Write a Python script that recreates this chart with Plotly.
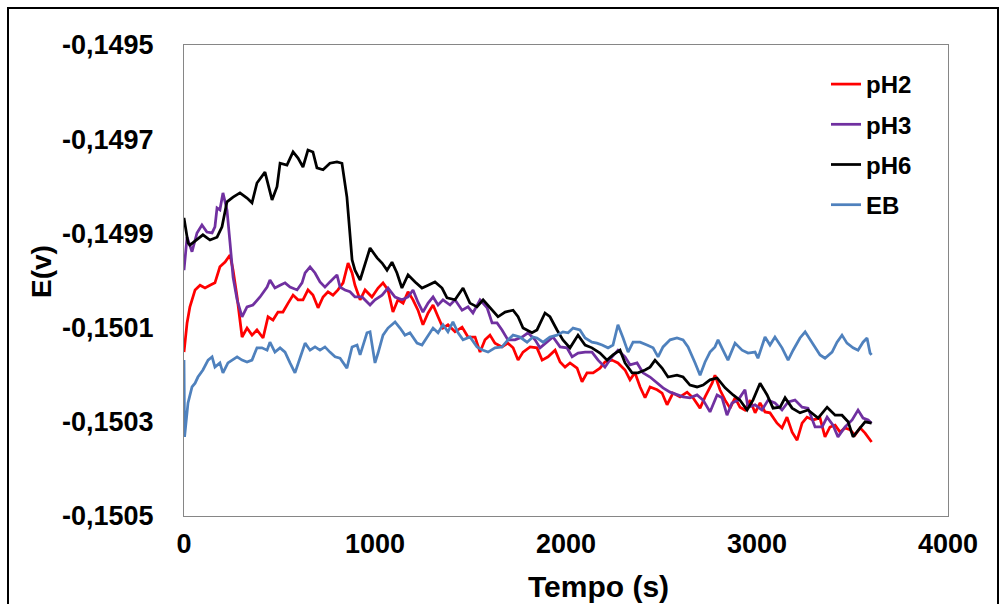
import plotly.graph_objects as go

# ---------------- data ----------------
t_ph2 = [0, 16, 31, 58, 84, 110, 136, 162, 188, 215, 241, 257, 278, 304, 330, 356, 382, 414, 440, 466,
         492, 518, 545, 571, 597, 623, 649, 675, 702, 728, 754, 780, 806, 833, 859, 880, 895, 922, 948, 984,
         1016, 1042, 1068, 1094, 1120, 1147, 1173, 1199, 1225, 1251, 1278, 1304, 1330, 1356, 1382, 1419, 1456, 1487, 1524, 1550,
         1576, 1602, 1628, 1665, 1696, 1723, 1749, 1775, 1812, 1848, 1875, 1906, 1943, 1969, 1995, 2021, 2058, 2084, 2110, 2142,
         2178, 2204, 2241, 2272, 2309, 2335, 2361, 2388, 2414, 2440, 2477, 2503, 2529, 2560, 2597, 2634, 2665, 2702, 2728, 2765,
         2780, 2806, 2833, 2859, 2885, 2911, 2937, 2964, 2990, 3016, 3042, 3068, 3105, 3131, 3157, 3184, 3210, 3236, 3262, 3293,
         3330, 3356, 3382, 3409, 3435, 3461, 3487, 3513, 3540, 3566, 3600]
e_ph2 = [-0.150152, -0.150090, -0.150056, -0.150020, -0.150010, -0.150016, -0.150010, -0.150005, -0.149971, -0.149961,
         -0.149946, -0.149978, -0.150035, -0.150120, -0.150101, -0.150116, -0.150105, -0.150122, -0.150077, -0.150084,
         -0.150067, -0.150067, -0.150048, -0.150031, -0.150041, -0.150041, -0.150020, -0.150031, -0.150058, -0.150035,
         -0.150024, -0.150031, -0.150020, -0.150005, -0.149963, -0.149984, -0.150010, -0.150041, -0.150020, -0.150035,
         -0.150016, -0.150005, -0.150020, -0.150067, -0.150041, -0.150048, -0.150024, -0.150041, -0.150063, -0.150094,
         -0.150069, -0.150052, -0.150077, -0.150101, -0.150094, -0.150109, -0.150099, -0.150120, -0.150120, -0.150152,
         -0.150126, -0.150116, -0.150133, -0.150141, -0.150133, -0.150143, -0.150169, -0.150152, -0.150141, -0.150143,
         -0.150169, -0.150162, -0.150148, -0.150173, -0.150184, -0.150175, -0.150186, -0.150215, -0.150196, -0.150196,
         -0.150186, -0.150173, -0.150169, -0.150175, -0.150190, -0.150211, -0.150196, -0.150226, -0.150249, -0.150226,
         -0.150232, -0.150239, -0.150264, -0.150239, -0.150247, -0.150237, -0.150249, -0.150271, -0.150247, -0.150218,
         -0.150201, -0.150232, -0.150254, -0.150271, -0.150249, -0.150269, -0.150275, -0.150254, -0.150281, -0.150260,
         -0.150279, -0.150281, -0.150303, -0.150313, -0.150290, -0.150322, -0.150339, -0.150303, -0.150290, -0.150296,
         -0.150292, -0.150332, -0.150311, -0.150307, -0.150322, -0.150313, -0.150317, -0.150328, -0.150313, -0.150324,
         -0.150343]

t_ph3 = [0, 16, 42, 68, 94, 120, 147, 162, 173, 188, 204, 225, 241, 257, 278, 304, 330, 361, 398, 435,
         450, 476, 503, 529, 555, 592, 618, 634, 660, 686, 712, 738, 764, 801, 817, 843, 869, 895, 932, 974,
         1000, 1037, 1068, 1105, 1141, 1173, 1199, 1225, 1251, 1278, 1304, 1330, 1356, 1393, 1419, 1456, 1487, 1513, 1550, 1587,
         1613, 1639, 1665, 1696, 1733, 1770, 1801, 1838, 1864, 1901, 1932, 1969, 2005, 2032, 2063, 2100, 2136, 2168, 2204, 2241,
         2272, 2309, 2335, 2372, 2403, 2440, 2477, 2508, 2545, 2581, 2613, 2649, 2686, 2718, 2754, 2791, 2817, 2843, 2869, 2901,
         2937, 2953, 2990, 3026, 3058, 3094, 3131, 3163, 3199, 3236, 3267, 3304, 3341, 3367, 3398, 3424, 3461, 3498, 3529, 3555,
         3582, 3600]
e_ph3 = [-0.149978, -0.149908, -0.149939, -0.149899, -0.149882, -0.149897, -0.149899, -0.149886, -0.149846, -0.149850,
         -0.149814, -0.149850, -0.149920, -0.149993, -0.150041, -0.150077, -0.150056, -0.150052, -0.150035, -0.150014,
         -0.149999, -0.150016, -0.150010, -0.150005, -0.150014, -0.150020, -0.150005, -0.149984, -0.149971, -0.149984,
         -0.150003, -0.150014, -0.150003, -0.149988, -0.150014, -0.150020, -0.150024, -0.150035, -0.150035, -0.150052,
         -0.150041, -0.150031, -0.150016, -0.150035, -0.150041, -0.150035, -0.150020, -0.150046, -0.150067, -0.150048,
         -0.150035, -0.150052, -0.150041, -0.150052, -0.150041, -0.150063, -0.150056, -0.150069, -0.150041, -0.150058,
         -0.150090, -0.150090, -0.150105, -0.150126, -0.150126, -0.150120, -0.150111, -0.150126, -0.150143, -0.150131,
         -0.150120, -0.150141, -0.150143, -0.150162, -0.150154, -0.150152, -0.150152, -0.150169, -0.150184, -0.150162,
         -0.150148, -0.150162, -0.150179, -0.150175, -0.150196, -0.150205, -0.150218, -0.150228, -0.150237, -0.150243,
         -0.150247, -0.150249, -0.150243, -0.150254, -0.150279, -0.150243, -0.150249, -0.150286, -0.150260, -0.150254,
         -0.150232, -0.150269, -0.150264, -0.150275, -0.150254, -0.150260, -0.150275, -0.150258, -0.150254, -0.150269,
         -0.150271, -0.150311, -0.150311, -0.150290, -0.150307, -0.150332, -0.150311, -0.150296, -0.150275, -0.150292,
         -0.150296, -0.150303]

t_ph6 = [0, 21, 31, 68, 99, 136, 173, 199, 225, 257, 293, 330, 356, 382, 424, 461, 487, 503, 539, 571,
         597, 623, 649, 675, 696, 728, 764, 801, 827, 853, 880, 895, 922, 974, 1011, 1037, 1063, 1089, 1115, 1141,
         1173, 1210, 1246, 1278, 1314, 1351, 1377, 1419, 1461, 1497, 1534, 1566, 1613, 1644, 1681, 1723, 1749, 1775, 1822, 1848,
         1890, 1916, 1953, 1984, 2021, 2063, 2100, 2136, 2178, 2215, 2246, 2283, 2309, 2346, 2377, 2414, 2440, 2466, 2503, 2534,
         2581, 2613, 2649, 2686, 2718, 2754, 2791, 2833, 2875, 2911, 2948, 2979, 3016, 3053, 3084, 3121, 3147, 3184, 3225, 3267,
         3320, 3367, 3409, 3445, 3477, 3503, 3540, 3566, 3600]
e_ph6 = [-0.149867, -0.149920, -0.149925, -0.149914, -0.149903, -0.149914, -0.149908, -0.149886, -0.149833, -0.149823,
         -0.149814, -0.149825, -0.149835, -0.149793, -0.149770, -0.149829, -0.149801, -0.149751, -0.149755, -0.149727,
         -0.149740, -0.149759, -0.149723, -0.149727, -0.149761, -0.149765, -0.149751, -0.149748, -0.149751, -0.149823,
         -0.149956, -0.149978, -0.149999, -0.149931, -0.149952, -0.149963, -0.149978, -0.149961, -0.149984, -0.150016,
         -0.149988, -0.150003, -0.150016, -0.150010, -0.150003, -0.150016, -0.150037, -0.150041, -0.150016, -0.150048,
         -0.150056, -0.150041, -0.150063, -0.150077, -0.150067, -0.150063, -0.150077, -0.150101, -0.150111, -0.150105,
         -0.150069, -0.150077, -0.150105, -0.150126, -0.150143, -0.150116, -0.150137, -0.150143, -0.150154, -0.150169,
         -0.150158, -0.150148, -0.150175, -0.150196, -0.150196, -0.150190, -0.150184, -0.150169, -0.150186, -0.150205,
         -0.150201, -0.150205, -0.150222, -0.150226, -0.150222, -0.150211, -0.150207, -0.150228, -0.150243, -0.150254,
         -0.150275, -0.150254, -0.150218, -0.150243, -0.150271, -0.150269, -0.150249, -0.150271, -0.150281, -0.150275,
         -0.150292, -0.150269, -0.150286, -0.150286, -0.150300, -0.150332, -0.150313, -0.150300, -0.150303]

t_eb = [0, 3, 21, 42, 58, 73, 99, 126, 147, 162, 188, 204, 230, 251, 278, 304, 330, 356, 382, 408,
        435, 450, 476, 503, 529, 555, 581, 607, 634, 660, 686, 712, 738, 764, 791, 817, 853, 880, 906, 922,
        958, 974, 1000, 1016, 1042, 1068, 1105, 1131, 1157, 1183, 1220, 1246, 1272, 1304, 1330, 1356, 1382, 1408, 1435, 1461,
        1497, 1534, 1566, 1592, 1628, 1665, 1696, 1723, 1759, 1796, 1827, 1848, 1880, 1916, 1953, 1984, 2011, 2037, 2073, 2100,
        2136, 2162, 2189, 2220, 2246, 2272, 2299, 2325, 2351, 2388, 2424, 2456, 2482, 2508, 2545, 2581, 2613, 2639, 2676, 2702,
        2728, 2754, 2780, 2796, 2822, 2848, 2885, 2922, 2953, 2990, 3005, 3042, 3068, 3094, 3131, 3163, 3189, 3225, 3252, 3278,
        3304, 3330, 3356, 3393, 3419, 3445, 3471, 3503, 3529, 3555, 3576, 3592, 3600]
e_eb = [-0.150169, -0.150332, -0.150260, -0.150226, -0.150218, -0.150205, -0.150190, -0.150169, -0.150162, -0.150184,
        -0.150175, -0.150196, -0.150175, -0.150169, -0.150162, -0.150169, -0.150173, -0.150169, -0.150143, -0.150143,
        -0.150148, -0.150131, -0.150152, -0.150143, -0.150152, -0.150175, -0.150196, -0.150165, -0.150133, -0.150148,
        -0.150141, -0.150148, -0.150141, -0.150152, -0.150162, -0.150165, -0.150186, -0.150141, -0.150137, -0.150158,
        -0.150111, -0.150109, -0.150175, -0.150154, -0.150116, -0.150101, -0.150088, -0.150101, -0.150116, -0.150111,
        -0.150133, -0.150137, -0.150120, -0.150101, -0.150111, -0.150094, -0.150109, -0.150088, -0.150111, -0.150126,
        -0.150120, -0.150141, -0.150148, -0.150152, -0.150143, -0.150141, -0.150126, -0.150116, -0.150120, -0.150131,
        -0.150120, -0.150122, -0.150131, -0.150120, -0.150116, -0.150109, -0.150111, -0.150101, -0.150105, -0.150122,
        -0.150131, -0.150133, -0.150137, -0.150143, -0.150137, -0.150094, -0.150122, -0.150152, -0.150131, -0.150131,
        -0.150137, -0.150143, -0.150162, -0.150141, -0.150126, -0.150122, -0.150126, -0.150141, -0.150175, -0.150201,
        -0.150173, -0.150152, -0.150141, -0.150126, -0.150148, -0.150169, -0.150133, -0.150148, -0.150154, -0.150152,
        -0.150165, -0.150120, -0.150137, -0.150120, -0.150143, -0.150169, -0.150148, -0.150122, -0.150109, -0.150126,
        -0.150141, -0.150158, -0.150165, -0.150152, -0.150131, -0.150116, -0.150133, -0.150143, -0.150148, -0.150131,
        -0.150122, -0.150154, -0.150158]

series_names = ["pH2", "pH3", "pH6", "EB"]
x_ticks = [0, 1000, 2000, 3000, 4000]
y_ticks = [-0.1505, -0.1503, -0.1501, -0.1499, -0.1497, -0.1495]
y_tick_labels = ["-0,1505", "-0,1503", "-0,1501", "-0,1499", "-0,1497", "-0,1495"]
x_title = "Tempo (s)"
y_title = "E(v)"

# ---------------- figure ----------------
colors = ["#FF0000", "#7030A0", "#000000", "#4F81BD"]
xs = [t_ph2, t_ph3, t_ph6, t_eb]
ys = [e_ph2, e_ph3, e_ph6, e_eb]

fig = go.Figure()
for name, x, y, c in zip(series_names, xs, ys, colors):
    fig.add_trace(go.Scatter(x=x, y=y, mode="lines", name=name, legendgroup=name,
                             line=dict(color=c, width=2.75)))

FONT = "Liberation Sans, Arial, sans-serif"
L, R, T, B = 184, 57, 45, 88
W, H = 1005, 604
pw, ph = W - L - R, H - T - B

fig.update_layout(
    width=W, height=H,
    margin=dict(l=L, r=R, t=T, b=B),
    paper_bgcolor="white", plot_bgcolor="white",
    font=dict(family=FONT, color="black"),
    showlegend=True,
    legend=dict(x=(826 - L) / pw, y=(516 - 62) / ph, xanchor="left", yanchor="top",
                bgcolor="rgba(0,0,0,0)", font=dict(size=24, family=FONT, color="black", weight="bold"),
                tracegroupgap=6, itemwidth=30),
    xaxis=dict(range=[0, 4000], tickvals=x_ticks, ticktext=[str(v) for v in x_ticks],
               showgrid=False, zeroline=False, showline=True, linecolor="#868686", linewidth=1,
               mirror=True, ticks="", ticklabelstandoff=4,
               tickfont=dict(size=27, family=FONT, weight="bold")),
    yaxis=dict(range=[-0.1505, -0.1495], tickvals=y_ticks, ticktext=y_tick_labels,
               showgrid=False, zeroline=False, showline=True, linecolor="#868686", linewidth=1,
               mirror=True, ticks="", ticklabelstandoff=24,
               tickfont=dict(size=27, family=FONT, weight="bold")),
)

# axis titles placed as in the reference
fig.add_annotation(text=x_title, xref="paper", yref="paper", x=(598 - L) / pw, y=(516 - 586) / ph,
                   xanchor="center", yanchor="middle", showarrow=False,
                   font=dict(size=30, family=FONT, color="black", weight="bold"))
fig.add_annotation(text=y_title, xref="paper", yref="paper", x=(41 - L) / pw, y=(516 - 272) / ph,
                   xanchor="center", yanchor="middle", showarrow=False, textangle=-90,
                   font=dict(size=28, family=FONT, color="black", weight="bold"))

# outer chart-area frame
fig.add_shape(type="rect", xref="paper", yref="paper",
              x0=(8 - L) / pw, x1=(998 - L) / pw, y0=(516 - 640) / ph, y1=(516 - 8) / ph,
              line=dict(color="black", width=2), fillcolor="rgba(0,0,0,0)", layer="below")

fig.write_html("out.html")
